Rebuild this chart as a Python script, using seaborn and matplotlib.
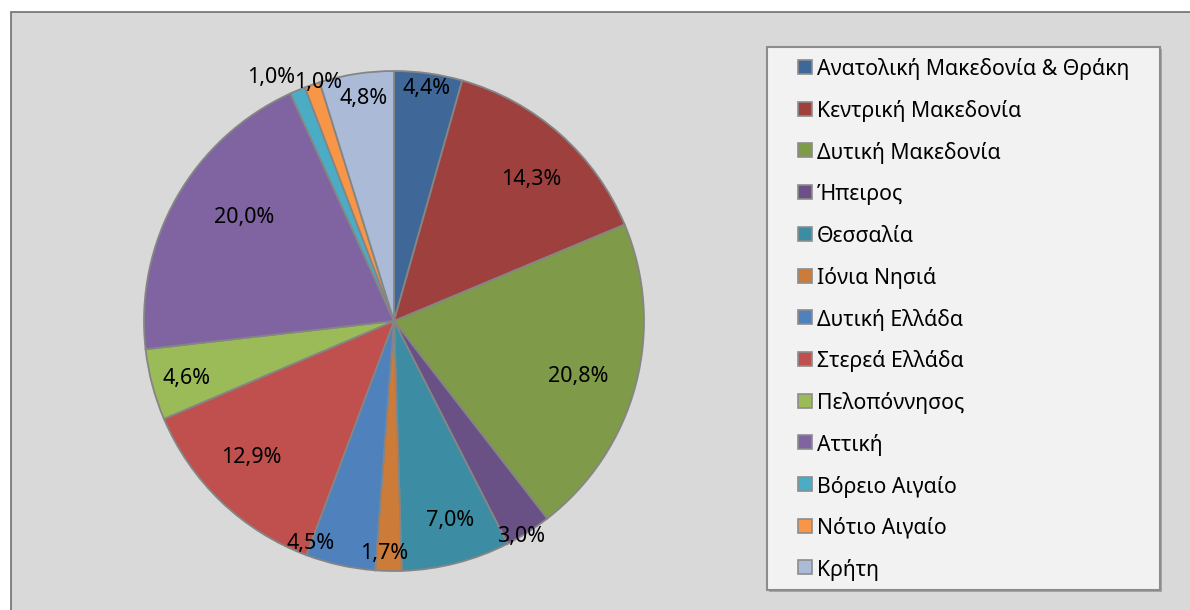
import matplotlib
matplotlib.use("Agg")
import matplotlib.pyplot as plt
import seaborn as sns
import numpy as np
from matplotlib.patches import Rectangle

sns.set_theme(style="white")
plt.rcParams['font.family'] = ['Noto Sans', 'DejaVu Sans']

regions = ["Ανατολική Μακεδονία & Θράκη", "Κεντρική Μακεδονία", "Δυτική Μακεδονία",
           "Ήπειρος", "Θεσσαλία", "Ιόνια Νησιά", "Δυτική Ελλάδα", "Στερεά Ελλάδα",
           "Πελοπόννησος", "Αττική", "Βόρειο Αιγαίο", "Νότιο Αιγαίο", "Κρήτη"]
shares = [4.4, 14.3, 20.8, 3.0, 7.0, 1.7, 4.5, 12.9, 4.6, 20.0, 1.0, 1.0, 4.8]
colors = ["#3F6899", "#9E413E", "#7F9A48", "#695185", "#3C8DA3", "#CC7B38",
          "#4F81BD", "#C0504D", "#9BBB59", "#8064A2", "#4BACC6", "#F79646", "#AABAD7"]

# label placement (radius fraction, angle offset in degrees)
label_r = [0.94, 0.79, 0.77, 1.0, 0.83, 0.93, 0.95, 0.79, 0.86, 0.73, 1.09, 1.0, 0.90]
label_da = [0, -2.6, -2, -1.8, 1.2, -1.1, -8.2, -2.5, 0.8, -5.1, 4.2, -1.5, -0.8]

W, H = 1190, 610
fig = plt.figure(figsize=(W / 100, H / 100), dpi=100)
fig.patch.set_facecolor("white")

# outer chart area
fig.patches.append(Rectangle((11 / W, -0.1), 1.2, (H - 12) / H + 0.1,
                             transform=fig.transFigure, facecolor="#D9D9D9",
                             edgecolor="#6F6F6F", linewidth=1.2, zorder=0))

cx, cy, R = 394, 321, 250
ax = fig.add_axes([(cx - R) / W, (H - cy - R) / H, 2 * R / W, 2 * R / H])
ax.set_zorder(5)
ax.set_facecolor("none")
wedges, _ = ax.pie(shares, colors=colors, startangle=90, counterclock=False,
                   radius=1.0, wedgeprops=dict(edgecolor="#858585", linewidth=1.3))
ax.set_xlim(-1, 1)
ax.set_ylim(-1, 1)
ax.set_aspect("equal")
ax.axis("off")

cum = 0.0
total = sum(shares)
for v, r, da in zip(shares, label_r, label_da):
    mid = 90 - (cum + v / 2) / total * 360 + da
    cum += v
    t = np.deg2rad(mid)
    ax.text(r * np.cos(t), r * np.sin(t), f"{v:.1f}".replace(".", ",") + "%",
            ha="center", va="center", fontsize=15.5, color="black", clip_on=False)

# legend box
lx0, ly0, lx1, ly1 = 767, 47, 1160, 590
fig.patches.append(Rectangle((lx0 / W + 2 / W, (H - ly1) / H - 2 / H), (lx1 - lx0) / W, (ly1 - ly0) / H,
                             transform=fig.transFigure, facecolor="#A6A6A6",
                             edgecolor="none", zorder=1))
fig.patches.append(Rectangle((lx0 / W, (H - ly1) / H), (lx1 - lx0) / W, (ly1 - ly0) / H,
                             transform=fig.transFigure, facecolor="#F2F2F2",
                             edgecolor="#8C8C8C", linewidth=1.5, zorder=2))
row0, step = 67, 41.7
for i, (name, c) in enumerate(zip(regions, colors)):
    y = row0 + i * step
    fig.patches.append(Rectangle((798 / W, (H - y - 7) / H), 14 / W, 14 / H,
                                 transform=fig.transFigure, facecolor=c,
                                 edgecolor="#8C8C8C", linewidth=1.2, zorder=3))
    fig.text(817 / W, (H - y) / H, name, ha="left", va="center_baseline",
             fontsize=15.3, color="black", zorder=4)

fig.savefig("out.png", dpi=100)
